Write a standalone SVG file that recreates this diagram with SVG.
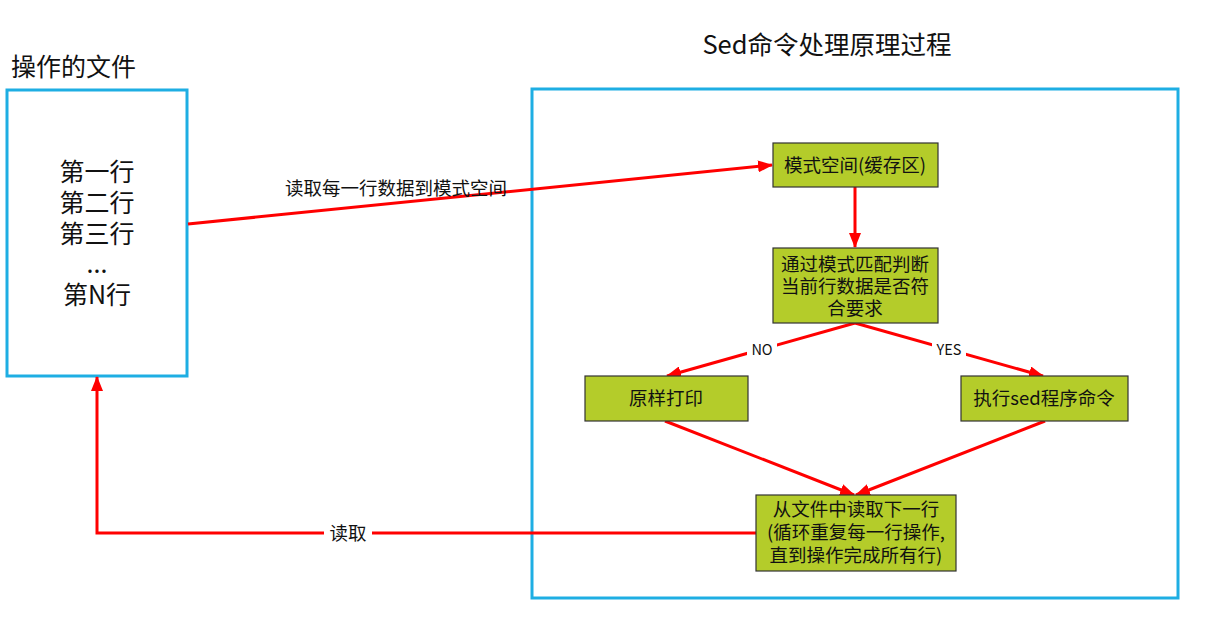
<svg xmlns="http://www.w3.org/2000/svg" width="1221" height="624" viewBox="0 0 1221 624">
<defs>
<marker id="ah" markerWidth="15" markerHeight="12" refX="14" refY="6" orient="auto" markerUnits="userSpaceOnUse" viewBox="0 0 15 12">
<path d="M0,0 L15,6 L0,12 Z" fill="#ff0000"/>
</marker>
<style>
text{font-family:"Noto Sans CJK SC","Microsoft YaHei",sans-serif;fill:#111}
.frame{fill:none;stroke:#1eaee3;stroke-width:3}
.node{fill:#b4cc2a;stroke:#333;stroke-width:1.2}
.c{stroke:#ff0000;stroke-width:3;fill:none}
.t{font-size:18.5px;text-anchor:middle}
.big{font-size:25px;text-anchor:middle}
.lbl{font-size:14.5px;text-anchor:middle}
</style>
</defs>
<rect width="1221" height="624" fill="#fff"/>
<g id="file">
<text x="11" y="76" style="font-size:25px">操作的文件</text>
<rect class="frame" x="7" y="90" width="180" height="286"/>
<text class="big" x="97" y="181">第一行</text>
<text class="big" x="97" y="212">第二行</text>
<text class="big" x="97" y="243">第三行</text>
<text class="big" x="97" y="273">...</text>
<text class="big" x="97" y="304">第N行</text>
</g>
<g id="sed">
<text x="827" y="54" class="big" style="font-size:25.5px">Sed命令处理原理过程</text>
<rect class="frame" x="532" y="89" width="646" height="509"/>
</g>
<g id="connectors">
<line class="c" x1="188" y1="224" x2="772" y2="165" marker-end="url(#ah)"/>
<text x="396" y="195" class="t">读取每一行数据到模式空间</text>
<line class="c" x1="855" y1="187" x2="855" y2="247" marker-end="url(#ah)"/>
<line class="c" x1="855" y1="323" x2="667" y2="376" marker-end="url(#ah)"/>
<line class="c" x1="855" y1="323" x2="1043" y2="376" marker-end="url(#ah)"/>
<rect x="747" y="341" width="30" height="17" fill="#fff"/>
<text x="762" y="355" class="lbl">NO</text>
<rect x="932" y="341" width="34" height="17" fill="#fff"/>
<text x="949" y="355" class="lbl">YES</text>
<line class="c" x1="665" y1="421" x2="854" y2="495" marker-end="url(#ah)"/>
<line class="c" x1="1045" y1="421" x2="856" y2="495" marker-end="url(#ah)"/>
<polyline class="c" points="756,533 97,533 97,377" marker-end="url(#ah)"/>
<rect x="324" y="521" width="48" height="24" fill="#fff"/>
<text x="348" y="540" class="t">读取</text>
</g>
<g id="n1">
<rect class="node" x="773" y="143" width="165" height="44"/>
<text class="t" x="855" y="172">模式空间(缓存区)</text>
</g>
<g id="n2">
<rect class="node" x="773" y="248" width="165" height="75"/>
<text class="t" x="855" y="271">通过模式匹配判断</text>
<text class="t" x="855" y="293">当前行数据是否符</text>
<text class="t" x="855" y="315">合要求</text>
</g>
<g id="n3">
<rect class="node" x="585" y="376" width="163" height="45"/>
<text class="t" x="666" y="405">原样打印</text>
</g>
<g id="n4">
<rect class="node" x="961" y="376" width="167" height="45"/>
<text class="t" x="1044" y="405">执行sed程序命令</text>
</g>
<g id="n5">
<rect class="node" x="756" y="495" width="200" height="76"/>
<text class="t" x="856" y="516">从文件中读取下一行</text>
<text class="t" x="856" y="539">(循环重复每一行操作,</text>
<text class="t" x="856" y="562">直到操作完成所有行)</text>
</g>
</svg>
